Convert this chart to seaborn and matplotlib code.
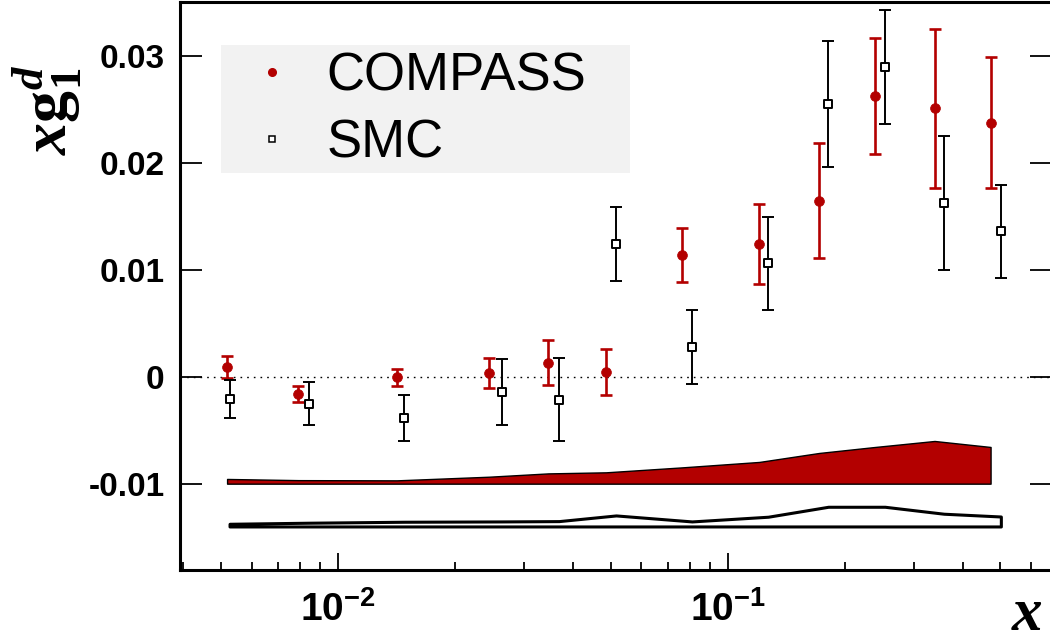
import numpy as np
import pandas as pd
import matplotlib
matplotlib.use('Agg')
import matplotlib.pyplot as plt
import matplotlib.ticker as mticker
from matplotlib.patches import Rectangle
from matplotlib.lines import Line2D
import seaborn as sns

# COMPASS points (x, x*g1d, stat error, syst. band height)
compass_x = [0.00519, 0.00791, 0.01414, 0.02439, 0.0346, 0.04866, 0.07609, 0.1203, 0.1714, 0.2385, 0.3388, 0.4717]
compass_y = [0.00093, -0.00162, -0.00006, 0.00037, 0.00131, 0.00044, 0.01135, 0.0124, 0.01645, 0.02623, 0.02508, 0.02374]
compass_err = [0.00103, 0.00078, 0.00078, 0.00142, 0.00212, 0.00216, 0.00251, 0.00371, 0.0054, 0.00542, 0.0074, 0.0061]
compass_syst = [0.00044, 0.00033, 0.00031, 0.00065, 0.00096, 0.00106, 0.00152, 0.00203, 0.00287, 0.00343, 0.00399, 0.00343]

# SMC points
smc_x = [0.005266, 0.00844, 0.01476, 0.02629, 0.03686, 0.05162, 0.08084, 0.1268, 0.1808, 0.2527, 0.3579, 0.5012]
smc_y = [-0.00208, -0.00252, -0.00386, -0.00146, -0.00215, 0.0124, 0.00278, 0.0106, 0.02549, 0.02897, 0.01623, 0.01359]
smc_err = [0.00176, 0.00198, 0.00214, 0.00309, 0.00388, 0.00347, 0.00346, 0.00433, 0.00587, 0.00534, 0.00626, 0.00436]
smc_syst = [0.00025, 0.00035, 0.00044, 0.00047, 0.0005, 0.00103, 0.00047, 0.00091, 0.00184, 0.00184, 0.00119, 0.00093]

compass_base = -0.01
smc_base = -0.014

y_ticks = [-0.01, 0, 0.01, 0.02, 0.03]
y_ticklabels = ['-0.01', '0', '0.01', '0.02', '0.03']

sns.set_theme(style='ticks')
plt.rcParams['font.family'] = ['Liberation Sans', 'DejaVu Sans']
plt.rcParams['axes.unicode_minus'] = False
plt.rcParams['mathtext.fontset'] = 'custom'
plt.rcParams['mathtext.rm'] = 'Liberation Serif:bold'
plt.rcParams['mathtext.it'] = 'Liberation Serif:italic:bold'
plt.rcParams['mathtext.bf'] = 'Liberation Sans:bold'
plt.rcParams['mathtext.sf'] = 'Liberation Sans:bold'
for key in ['text.color', 'axes.labelcolor', 'xtick.color', 'ytick.color', 'axes.edgecolor']:
    plt.rcParams[key] = 'black'

red = '#b30000'

compass = pd.DataFrame({'x': compass_x, 'y': compass_y, 'err': compass_err, 'syst': compass_syst})
smc = pd.DataFrame({'x': smc_x, 'y': smc_y, 'err': smc_err, 'syst': smc_syst})

fig = plt.figure(figsize=(10.5, 6.41), dpi=100)
ax = fig.add_axes([180 / 1050, 71 / 641, 872 / 1050, 568.3 / 641])

# systematic bands
ax.fill_between(compass['x'], compass_base, compass_base + compass['syst'],
                facecolor=red, edgecolor='black', linewidth=1.0, zorder=2)
ax.fill_between(smc['x'], smc_base, smc_base + smc['syst'],
                facecolor='white', edgecolor='black', linewidth=2.2, zorder=2)

# zero line
ax.axhline(0, color='black', linewidth=1.0, linestyle=(0, (1.2, 3.6)), zorder=1)

# error bars
ax.errorbar(compass['x'], compass['y'], yerr=compass['err'], fmt='none',
            ecolor=red, elinewidth=1.9, capsize=4, capthick=1.9, zorder=3)
ax.errorbar(smc['x'], smc['y'], yerr=smc['err'], fmt='none',
            ecolor='black', elinewidth=1.4, capsize=4, capthick=1.4, zorder=3)

# markers
sns.scatterplot(data=compass, x='x', y='y', ax=ax, color=red, marker='o',
                s=50, edgecolor=red, linewidth=0.5, zorder=4, legend=False)
sns.scatterplot(data=smc, x='x', y='y', ax=ax, color='white', marker='s',
                s=40, edgecolor='black', linewidth=1.4, zorder=4, legend=False)

ax.set_xscale('log')
ax.set_xlim(0.00393, 0.678)
ax.set_ylim(-0.01807, 0.03505)

ax.xaxis.set_major_locator(mticker.LogLocator(base=10))
ax.xaxis.set_minor_locator(mticker.LogLocator(base=10, subs=np.arange(2, 10)))
ax.xaxis.set_major_formatter(mticker.FuncFormatter(
    lambda v, p: r'$\mathbf{10^{%d}}$' % int(round(np.log10(v)))))
ax.xaxis.set_minor_formatter(mticker.NullFormatter())
ax.set_yticks(y_ticks)
ax.set_yticklabels(y_ticklabels)
ax.yaxis.set_minor_locator(mticker.NullLocator())

ax.tick_params(axis='x', which='major', direction='in', length=12, width=1.3,
               top=False, bottom=True, pad=15, labelsize=28)
ax.tick_params(axis='x', which='minor', direction='in', length=6, width=1.3,
               top=False, bottom=True)
ax.tick_params(axis='y', which='major', direction='in', length=16, width=1.3,
               left=True, right=True, pad=11, labelsize=24)
for lab in ax.get_yticklabels():
    lab.set_fontweight('bold')

for s in ax.spines.values():
    s.set_linewidth(2.2)
    s.set_color('black')

ax.set_xlabel('')
ax.set_ylabel('')

fig.text(47 / 1050, 1 - 110 / 641, r'$\mathit{x}\mathrm{g}_{\mathrm{1}}^{\mathit{d}}$',
         rotation=90, ha='center', va='center', fontsize=46)
fig.text(1027 / 1050, 1 - 630 / 641, r'$\mathit{x}$', ha='center', va='baseline', fontsize=44)

# legend box
ax.add_patch(Rectangle((221 / 1050, 1 - 173 / 641), 409 / 1050, 128 / 641,
                       transform=fig.transFigure, facecolor='#f2f2f2',
                       edgecolor='none', zorder=0, clip_on=False))
handles = [
    Line2D([], [], linestyle='none', marker='o', markersize=5.5, color=red, markeredgecolor=red),
    Line2D([], [], linestyle='none', marker='s', markersize=5, markerfacecolor='white',
           markeredgecolor='black', markeredgewidth=1.1),
]
ax.legend(handles, ['COMPASS', 'SMC'], loc='upper left',
          bbox_to_anchor=(221 / 1050, 1 - 45 / 641), bbox_transform=fig.transFigure,
          frameon=False, fontsize=38, borderpad=0.12, borderaxespad=0,
          labelspacing=0.33, handlelength=1.69, handletextpad=0.19)

fig.savefig('out.png', dpi=100)
